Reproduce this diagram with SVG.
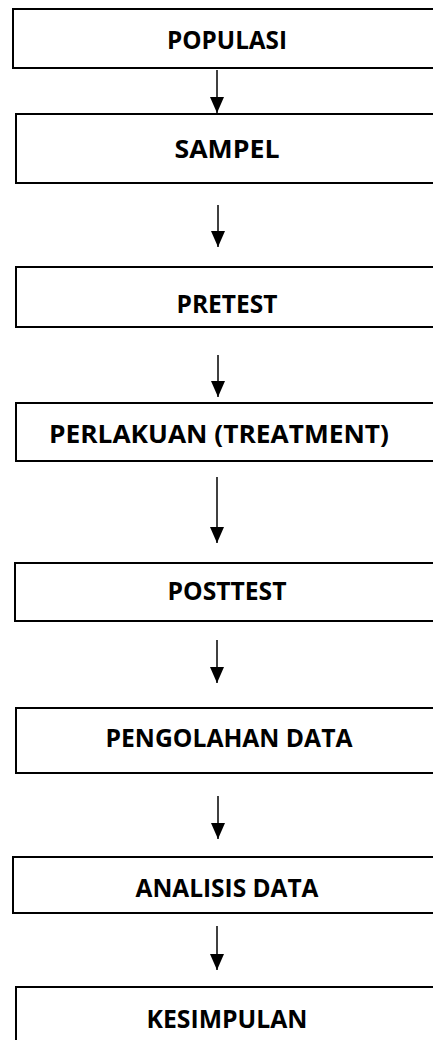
<svg xmlns="http://www.w3.org/2000/svg" width="433" height="1040" viewBox="0 0 433 1040">
<style>
.box{fill:#fff;stroke:#000;stroke-width:2}
.lbl{font-family:"Open Sans","Liberation Sans",sans-serif;font-weight:bold;font-size:25px;text-anchor:middle;fill:#000}
.conn{stroke:#000;stroke-width:1.5;fill:none}
</style>
<defs>
<marker id="ah" markerUnits="userSpaceOnUse" markerWidth="16" markerHeight="14" viewBox="0 0 16 14" refX="16" refY="7" orient="auto">
<path d="M0,0 L16,7 L0,14 Z" fill="#000"/>
</marker>
</defs>
<rect width="433" height="1040" fill="#fff"/>
<g id="n1"><rect class="box" x="13" y="9" width="430" height="59"/><text class="lbl" x="227" y="49" textLength="120" lengthAdjust="spacingAndGlyphs">POPULASI</text></g>
<g id="n2"><rect class="box" x="16" y="114" width="430" height="69"/><text class="lbl" x="227" y="158" textLength="105" lengthAdjust="spacingAndGlyphs">SAMPEL</text></g>
<g id="n3"><rect class="box" x="16" y="267" width="430" height="60"/><text class="lbl" x="227" y="313" textLength="101" lengthAdjust="spacingAndGlyphs">PRETEST</text></g>
<g id="n4"><rect class="box" x="16" y="403" width="430" height="58"/><text class="lbl" x="219" y="443" textLength="340" lengthAdjust="spacingAndGlyphs">PERLAKUAN (TREATMENT)</text></g>
<g id="n5"><rect class="box" x="15" y="563" width="430" height="58"/><text class="lbl" x="227" y="600" textLength="119" lengthAdjust="spacingAndGlyphs">POSTTEST</text></g>
<g id="n6"><rect class="box" x="16" y="708" width="430" height="65"/><text class="lbl" x="229" y="747" textLength="247" lengthAdjust="spacingAndGlyphs">PENGOLAHAN DATA</text></g>
<g id="n7"><rect class="box" x="13" y="857" width="430" height="56"/><text class="lbl" x="227" y="897" textLength="183" lengthAdjust="spacingAndGlyphs">ANALISIS DATA</text></g>
<g id="n8"><rect class="box" x="16" y="987" width="430" height="70"/><text class="lbl" x="227" y="1028" textLength="161" lengthAdjust="spacingAndGlyphs">KESIMPULAN</text></g>
<g id="connectors">
<line class="conn" x1="217" y1="70" x2="217" y2="113" marker-end="url(#ah)"/>
<line class="conn" x1="218" y1="205" x2="218" y2="247" marker-end="url(#ah)"/>
<line class="conn" x1="218" y1="355" x2="218" y2="397" marker-end="url(#ah)"/>
<line class="conn" x1="217" y1="477" x2="217" y2="543" marker-end="url(#ah)"/>
<line class="conn" x1="217" y1="640" x2="217" y2="683" marker-end="url(#ah)"/>
<line class="conn" x1="218" y1="796" x2="218" y2="839" marker-end="url(#ah)"/>
<line class="conn" x1="217" y1="926" x2="217" y2="970" marker-end="url(#ah)"/>
</g>
</svg>
